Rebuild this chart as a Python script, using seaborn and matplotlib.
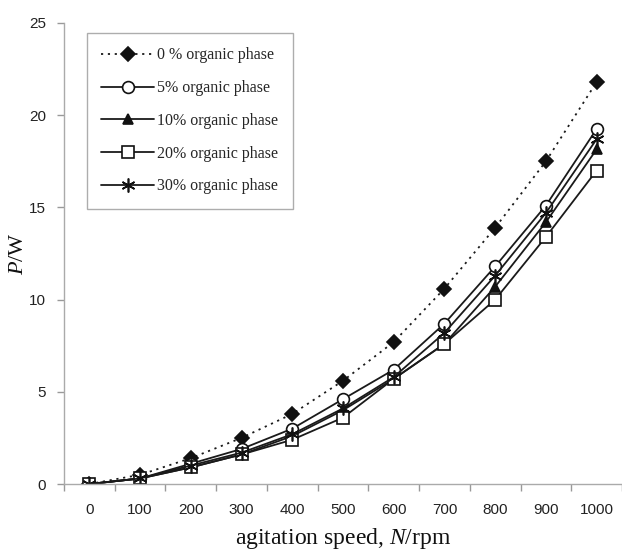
import numpy as np
import pandas as pd
import matplotlib
matplotlib.use("Agg")
import matplotlib.pyplot as plt
import seaborn as sns
from matplotlib.ticker import FixedLocator

speeds = [0, 100, 200, 300, 400, 500, 600, 700, 800, 900, 1000]
series_names = ["0 % organic phase", "5% organic phase", "10% organic phase",
                "20% organic phase", "30% organic phase"]
p0 = [0.0, 0.5, 1.4, 2.5, 3.8, 5.6, 7.7, 10.6, 13.9, 17.5, 21.8]
p5 = [0.0, 0.3, 1.1, 1.9, 3.0, 4.6, 6.2, 8.7, 11.8, 15.1, 19.25]
p10 = [0.0, 0.3, 0.9, 1.6, 2.6, 4.0, 5.7, 7.6, 10.7, 14.2, 18.15]
p20 = [0.0, 0.3, 0.9, 1.6, 2.4, 3.6, 5.7, 7.6, 10.0, 13.4, 17.0]
p30 = [0.0, 0.3, 1.0, 1.7, 2.7, 4.1, 5.8, 8.2, 11.3, 14.7, 18.7]

values = [p0, p5, p10, p20, p30]

sns.set_style("white")
plt.rcParams["mathtext.fontset"] = "custom"
plt.rcParams["mathtext.rm"] = "Liberation Serif"
plt.rcParams["mathtext.it"] = "Liberation Serif:italic"

fig = plt.figure(figsize=(6.22, 5.52), dpi=100)
ax = fig.add_axes([64 / 622, 68 / 552, 1 - 64 / 622, (484 - 23) / 552])

markers = ["D", "o", "^", "s", (6, 2, 0)]
linestyles = [(0, (1.2, 2.6)), "-", "-", "-", "-"]
fills = ["#111111", "white", "#111111", "white", "#111111"]
msizes = [7.5, 8.5, 7.5, 8, 10]

for name, vals, mk, ls, fc, ms in zip(series_names, values, markers, linestyles, fills, msizes):
    sns.lineplot(x=speeds, y=vals, ax=ax, color="#1a1a1a", linewidth=1.3,
                 linestyle=ls, marker=mk, markersize=ms, markerfacecolor=fc,
                 markeredgecolor="#111111", markeredgewidth=1.2, label=name)

ax.set_xlim(-50, 1050)
ax.set_ylim(0, 25)
ax.set_xticks(speeds)
ax.set_xticklabels([str(s) for s in speeds], fontfamily="Liberation Sans", fontsize=11, color="#222222")
ax.xaxis.set_minor_locator(FixedLocator([s + 50 for s in [-100] + speeds]))
ax.tick_params(axis="x", which="major", length=0, pad=14)
ax.tick_params(axis="x", which="minor", length=5, color="#999999", width=1, direction="out", bottom=True)
ax.set_yticks([0, 5, 10, 15, 20, 25])
ax.set_yticklabels(["0", "5", "10", "15", "20", "25"], fontfamily="Liberation Sans", fontsize=11, color="#222222")
ax.tick_params(axis="y", length=5, color="#999999", width=1, direction="out", left=True, pad=8)

for side in ["top", "right"]:
    ax.spines[side].set_visible(False)
for side in ["left", "bottom"]:
    ax.spines[side].set_color("#aaaaaa")
    ax.spines[side].set_linewidth(1)

ax.set_xlabel("agitation speed, $\\mathit{N}$/rpm", fontfamily="Liberation Serif", fontsize=17, labelpad=6, color="#111111")
ax.set_ylabel("$\\mathit{P}$/W", fontfamily="Liberation Serif", fontsize=16, labelpad=1, color="#111111")

leg = ax.legend(loc="upper left", bbox_to_anchor=(23 / 558, (484 - 33) / 461),
                prop={"family": "Liberation Serif", "size": 11.5},
                frameon=True, fancybox=False, edgecolor="#999999", borderaxespad=0,
                handlelength=3.3, labelspacing=1.05, borderpad=0.9, handletextpad=0.2)
leg.get_frame().set_linewidth(1)

fig.savefig("out.png", dpi=100)
